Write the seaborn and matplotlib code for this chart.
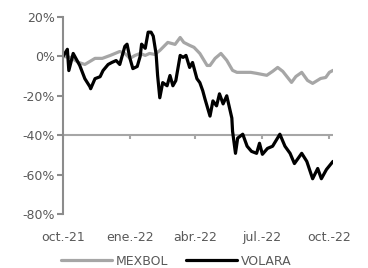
import numpy as np
import pandas as pd
import seaborn as sns
import matplotlib
matplotlib.use("Agg")
import matplotlib.pyplot as plt
import matplotlib.dates as mdates
from matplotlib.ticker import FuncFormatter

# values (% change since oct-21)
volara_dates = ["2021-10-01", "2021-10-07", "2021-10-09", "2021-10-15", "2021-10-24", "2021-10-31",
                "2021-11-07", "2021-11-08", "2021-11-14", "2021-11-21", "2021-11-25", "2021-12-02",
                "2021-12-07", "2021-12-13", "2021-12-18", "2021-12-25", "2021-12-28", "2022-01-01",
                "2022-01-05", "2022-01-11", "2022-01-15", "2022-01-17", "2022-01-22", "2022-01-26",
                "2022-01-30", "2022-02-02", "2022-02-06", "2022-02-08", "2022-02-11", "2022-02-15",
                "2022-02-21", "2022-02-25", "2022-03-01", "2022-03-05", "2022-03-11", "2022-03-15",
                "2022-03-19", "2022-03-24", "2022-03-28", "2022-04-03", "2022-04-07", "2022-04-11",
                "2022-04-14", "2022-04-21", "2022-04-25", "2022-04-30", "2022-05-04", "2022-05-09",
                "2022-05-14", "2022-05-21", "2022-05-22", "2022-05-26", "2022-05-29", "2022-06-05",
                "2022-06-11", "2022-06-17", "2022-06-24", "2022-06-28", "2022-07-02", "2022-07-09",
                "2022-07-16", "2022-07-26", "2022-08-02", "2022-08-09", "2022-08-15", "2022-08-25",
                "2022-09-01", "2022-09-09", "2022-09-16", "2022-09-21", "2022-09-28", "2022-10-07"]
volara = [0.0, 3.6, -7.2, 1.5, -4.6, -11.3,
          -15.4, -16.4, -11.3, -10.3, -7.2, -4.1,
          -3.1, -2.1, -4.1, 5.1, 6.2, -1.0,
          -6.2, -5.1, 0.0, 6.2, 4.1, 12.3,
          12.3, 10.3, 1.0, -9.7, -21.0, -13.3,
          -14.9, -9.7, -14.9, -12.3, 0.5, -0.5,
          0.5, -5.6, -3.1, -11.3, -13.3, -17.4,
          -21.5, -30.3, -22.6, -25.1, -19.0, -24.1,
          -20.0, -31.3, -38.0, -49.2, -41.5, -39.5,
          -45.6, -48.2, -49.2, -44.1, -49.7, -46.7,
          -45.6, -39.5, -45.6, -49.2, -54.4, -49.2,
          -53.3, -62.1, -56.9, -62.1, -57.4, -53.3]

mexbol_dates = ["2021-10-01", "2021-10-11", "2021-10-22", "2021-10-31", "2021-11-14", "2021-11-24",
                "2021-12-05", "2021-12-18", "2021-12-25", "2022-01-01", "2022-01-08", "2022-01-15",
                "2022-01-22", "2022-01-28", "2022-02-04", "2022-02-11", "2022-02-22", "2022-03-04",
                "2022-03-11", "2022-03-16", "2022-03-24", "2022-03-30", "2022-04-07", "2022-04-17",
                "2022-04-21", "2022-04-28", "2022-05-06", "2022-05-14", "2022-05-22", "2022-05-28",
                "2022-06-05", "2022-06-16", "2022-06-24", "2022-07-08", "2022-07-16", "2022-07-23",
                "2022-07-30", "2022-08-11", "2022-08-17", "2022-08-25", "2022-09-02", "2022-09-09",
                "2022-09-20", "2022-09-27", "2022-10-02", "2022-10-07"]
mexbol = [0.0, -0.5, -3.0, -4.1, -1.0, -1.0,
          0.5, 2.5, 1.5, -1.0, 0.5, 1.5,
          0.5, 1.5, 1.0, 3.0, 7.1, 6.1,
          9.6, 7.1, 5.6, 4.6, 1.5, -4.6,
          -4.6, -1.0, 1.5, -2.0, -7.1, -8.1,
          -8.1, -8.1, -8.6, -9.6, -7.6, -5.6,
          -7.6, -13.2, -10.2, -8.1, -12.2, -13.7,
          -11.2, -10.7, -8.1, -7.1]

tick_dates = ["2021-10-01", "2022-01-01", "2022-04-01", "2022-07-01", "2022-10-01"]
tick_labels = ["oct.-21", "ene.-22", "abr.-22", "jul.-22", "oct.-22"]
cross_level = -40  # where the horizontal axis line crosses

df_v = pd.DataFrame({"fecha": pd.to_datetime(volara_dates), "valor": volara})
df_m = pd.DataFrame({"fecha": pd.to_datetime(mexbol_dates), "valor": mexbol})

sns.set_style("white")
plt.rcParams["font.family"] = ["Liberation Sans Narrow", "DejaVu Sans"]
plt.rcParams["axes.unicode_minus"] = False

text_col = "#595959"
spine_col = "#8c8c8c"
xaxis_col = "#a6a6a6"

fig = plt.figure(figsize=(3.68, 2.68), dpi=100)
ax = fig.add_axes([63 / 368, 1 - 214 / 268, (333 - 63) / 368, (214 - 17) / 268])

ticks = mdates.date2num(pd.to_datetime(tick_dates))

# horizontal axis line at -40% with its small tick marks
ax.axhline(cross_level, color=xaxis_col, linewidth=1.5, zorder=1.5)
ax.vlines(ticks, cross_level - 2, cross_level, color=xaxis_col, linewidth=1.5, zorder=1.5)

sns.lineplot(data=df_m, x="fecha", y="valor", color="#a6a6a6", linewidth=2.3, ax=ax, label="MEXBOL")
sns.lineplot(data=df_v, x="fecha", y="valor", color="black", linewidth=2.3, ax=ax, label="VOLARA")

ax.set_ylim(-80, 20)
ax.set_yticks([20, 0, -20, -40, -60, -80])
ax.yaxis.set_major_formatter(FuncFormatter(lambda v, p: f"{v:.0f}%"))
ax.set_xlim(pd.Timestamp("2021-10-01"), pd.Timestamp("2022-10-07"))
ax.set_xlabel("")
ax.set_ylabel("")

ax.spines["top"].set_visible(False)
ax.spines["right"].set_visible(False)
ax.spines["bottom"].set_visible(False)
ax.spines["left"].set_color(spine_col)
ax.spines["left"].set_linewidth(1.5)

ax.set_xticks(ticks)
ax.set_xticklabels(tick_labels)
ax.tick_params(axis="x", length=0, colors=text_col, labelsize=9, pad=12)
ax.tick_params(axis="y", direction="out", length=4, width=1.5, color=spine_col,
               labelcolor=text_col, labelsize=9, pad=2, left=True)

ax.legend(loc="upper center", bbox_to_anchor=(0.42, -0.15), ncol=2, frameon=False,
          handlelength=4.1, columnspacing=1.4, handletextpad=0.3, fontsize=9,
          labelcolor=text_col)

fig.savefig("out.png", dpi=100)
